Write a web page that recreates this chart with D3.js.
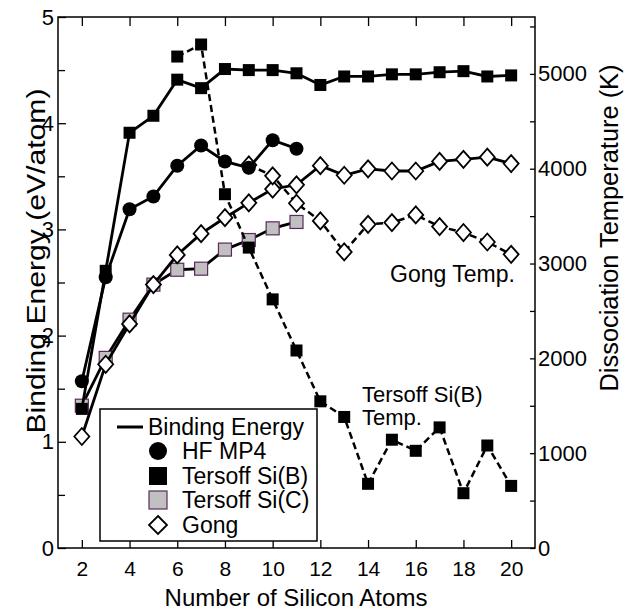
<!DOCTYPE html>
<html><head><meta charset="utf-8">
<script src="https://cdn.jsdelivr.net/npm/d3@7"></script>
<style>body{margin:0;background:#fff}svg{display:block}text{font-family:"Liberation Sans",Arial,sans-serif}</style>
</head><body><svg id="c" width="633" height="610"></svg>
<script>
// Data
const atoms = [2,3,4,5,6,7,8,9,10,11,12,13,14,15,16,17,18,19,20];
const hfMP4 = [1.57,2.55,3.19,3.31,3.60,3.79,3.64,3.58,3.84,3.76];            // n = 2..11
const tersoffB = [1.31,2.61,3.91,4.07,4.41,4.33,4.51,4.50,4.50,4.47,4.36,4.44,4.44,4.46,4.46,4.48,4.49,4.44,4.45]; // n = 2..20
const tersoffC = [1.34,1.79,2.15,2.48,2.62,2.63,2.81,2.90,3.01,3.07];         // n = 2..11
const gong = [1.05,1.73,2.11,2.48,2.76,2.96,3.11,3.25,3.38,3.42,3.60,3.51,3.57,3.55,3.55,3.64,3.66,3.68,3.62]; // n = 2..20
const tersoffBTempAtoms = [6,7,8,9,10,11,12,13,14,15,16,17,18,19,20];
const tersoffBTemp = [5183,5310,3731,3168,2622,2083,1547,1382,677,1142,1025,1272,578,1081,655];
const gongTempAtoms = [9,10,11,12,13,14,15,16,17,18,19,20];
const gongTemp = [4040,3925,3636,3449,3122,3414,3432,3513,3390,3327,3227,3097];
const xTicks = [2,4,6,8,10,12,14,16,18,20];
const yTicks = [0,1,2,3,4,5];
const yMinor = [0.5,1.5,2.5,3.5,4.5];
const tTicks = [0,1000,2000,3000,4000,5000];
const tMinor = [500,1500,2500,3500,4500,5500];

const svg = d3.select("#c");
const L=58, R=535, T=17, B=548;
const x = d3.scaleLinear().domain([1,21]).range([L,R]);
const y = d3.scaleLinear().domain([0,5]).range([B,T]);
const y2 = d3.scaleLinear().domain([0,5600]).range([B,T]);
const fmt = d3.format("d");

function styleAxis(g, fs){
  g.select(".domain").remove();
  g.selectAll(".tick line").attr("stroke","#000").attr("stroke-width",1.3);
  g.selectAll("text").attr("font-size",fs).attr("fill","#000").attr("font-family",'"Liberation Sans",Arial,sans-serif');
}
// axes
svg.append("g").attr("transform",`translate(${L},0)`).call(d3.axisLeft(y).tickValues(yTicks).tickFormat(fmt).tickSize(-8).tickPadding(4)).call(g=>styleAxis(g,22));
svg.append("g").attr("transform",`translate(${L},0)`).call(d3.axisLeft(y).tickValues(yMinor).tickSize(-7).tickFormat("")).call(g=>styleAxis(g,22));
svg.append("g").attr("transform",`translate(${R},0)`).call(d3.axisRight(y2).tickValues(tTicks).tickFormat(fmt).tickSize(-5).tickPadding(3)).call(g=>styleAxis(g,22));
svg.append("g").attr("transform",`translate(${R},0)`).call(d3.axisRight(y2).tickValues(tMinor).tickSize(-5).tickFormat("")).call(g=>styleAxis(g,22));
svg.append("g").attr("transform",`translate(0,${B})`).call(d3.axisBottom(x).tickValues(xTicks).tickFormat(fmt).tickSize(-8).tickPadding(13)).call(g=>styleAxis(g,21));
svg.append("g").attr("transform",`translate(0,${T})`).call(d3.axisTop(x).tickValues(xTicks).tickSize(-9).tickFormat("")).call(g=>styleAxis(g,21));
svg.append("rect").attr("x",L).attr("y",T).attr("width",R-L).attr("height",B-T).attr("fill","none").attr("stroke","#000").attr("stroke-width",1.5);

// titles
svg.append("text").attr("x",296).attr("y",606).attr("text-anchor","middle").attr("font-size",24).text("Number of Silicon Atoms");
svg.append("text").attr("transform","translate(45,261) rotate(-90)").attr("text-anchor","middle").attr("font-size",25)
  .attr("textLength",345).attr("lengthAdjust","spacingAndGlyphs").text("Binding Energy (eV/atom)");
svg.append("text").attr("transform","translate(618,228) rotate(-90)").attr("text-anchor","middle").attr("font-size",25)
  .attr("textLength",327).attr("lengthAdjust","spacingAndGlyphs").text("Dissociation Temperature (K)");

// helpers
const lineFn = (xs, ys, sc) => d3.line().x((d,i)=>x(xs[i])).y(d=>sc(d));
function series(xs, ys, sc, dashed, marker){
  svg.append("path").datum(ys).attr("d",lineFn(xs,ys,sc)).attr("fill","none").attr("stroke","#000")
    .attr("stroke-width",dashed?2.5:2.8).attr("stroke-dasharray",dashed?"7,4":null);
  const g = svg.append("g");
  ys.forEach((v,i)=>marker(g, x(xs[i]), sc(v)));
}
const circ = (g,cx,cy,r=7)=>g.append("circle").attr("cx",cx).attr("cy",cy).attr("r",r).attr("fill","#000");
const sq = (g,cx,cy,s=12)=>g.append("rect").attr("x",cx-s/2).attr("y",cy-s/2).attr("width",s).attr("height",s).attr("fill","#000");
const gsq = (g,cx,cy,s=13)=>g.append("rect").attr("x",cx-s/2).attr("y",cy-s/2).attr("width",s).attr("height",s).attr("fill","#c0c0c0").attr("stroke","#5a2a5c").attr("stroke-width",1.2);
const dia = (g,cx,cy,w=7.5,h=8.5)=>g.append("path").attr("d",`M${cx},${cy-h}L${cx+w},${cy}L${cx},${cy+h}L${cx-w},${cy}Z`).attr("fill","#fff").attr("stroke","#000").attr("stroke-width",1.8);

const a2_11 = atoms.slice(0,10);
series(a2_11, tersoffC, y, false, gsq);
series(atoms, gong, y, false, dia);
series(gongTempAtoms, gongTemp, y2, true, dia);
series(a2_11, hfMP4, y, false, circ);
series(atoms, tersoffB, y, false, sq);
series(tersoffBTempAtoms, tersoffBTemp, y2, true, sq);

// annotations
svg.append("text").attr("x",390).attr("y",282).attr("font-size",23).text("Gong Temp.");
svg.append("text").attr("x",362).attr("y",402).attr("font-size",22).text("Tersoff Si(B)");
svg.append("text").attr("x",362).attr("y",425).attr("font-size",22).text("Temp.");

// legend
const lg = svg.append("g");
lg.append("rect").attr("x",100).attr("y",409).attr("width",217).attr("height",132).attr("fill","#fff").attr("stroke","#000").attr("stroke-width",1.5);
lg.append("line").attr("x1",117).attr("x2",143).attr("y1",427).attr("y2",427).attr("stroke","#000").attr("stroke-width",3);
lg.append("text").attr("x",148).attr("y",435).attr("font-size",23).text("Binding Energy");
const legItems = [["HF MP4",(g,cx,cy)=>circ(g,cx,cy,9)],["Tersoff Si(B)",(g,cx,cy)=>sq(g,cx,cy,18)],["Tersoff Si(C)",(g,cx,cy)=>gsq(g,cx,cy,18)],["Gong",(g,cx,cy)=>dia(g,cx,cy,9,9)]];
const legY = [451,476,500,525];
legItems.forEach((it,i)=>{
  it[1](lg,158,legY[i]);
  lg.append("text").attr("x",182).attr("y",legY[i]+8).attr("font-size",23).text(it[0]);
});
</script></body></html>
